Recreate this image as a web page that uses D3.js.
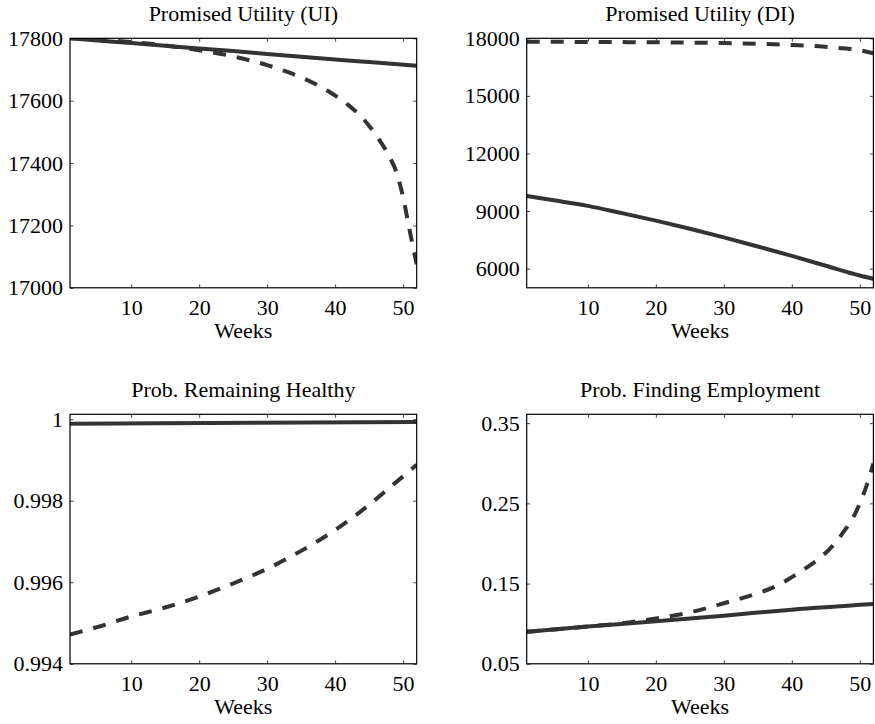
<!DOCTYPE html>
<html>
<head>
<meta charset="utf-8">
<script src="https://cdn.jsdelivr.net/npm/d3@7"></script>
<style>
  body { margin: 0; background: #fff; }
  svg text { font-family: "Liberation Serif", "Times New Roman", serif !important; fill: #000; }
</style>
</head>
<body>
<div id="chart"></div>
<script>
// weeks on the x axis
const xTicks = [10, 20, 30, 40, 50];

// Promised Utility (UI)
const uiWeeksSolid = [1, 5, 10, 15, 20, 25, 30, 35, 40, 45, 52];
const uiSolid = [17800, 17793, 17785, 17776, 17767, 17759, 17750, 17741, 17732, 17724, 17712];
const uiWeeksDashed = [1, 5, 10, 15, 20, 25, 30, 33, 36, 39, 42, 44, 46, 48, 49, 50, 51, 52];
const uiDashed = [17800, 17796, 17788, 17777, 17762, 17742, 17714, 17692, 17665, 17630, 17585, 17545, 17490, 17420, 17372, 17290, 17180, 17075];
const uiTicks = [17000, 17200, 17400, 17600, 17800];

// Promised Utility (DI)
const diWeeks = [1, 5, 10, 15, 20, 25, 30, 35, 40, 45, 50, 52];
const diSolid = [9780, 9560, 9270, 8890, 8500, 8080, 7630, 7150, 6660, 6150, 5640, 5470];
const diWeeksDashed = [1, 10, 20, 30, 35, 40, 44, 47, 50, 52];
const diDashed = [17820, 17810, 17790, 17750, 17710, 17650, 17580, 17500, 17380, 17220];
const diTicks = [6000, 9000, 12000, 15000, 18000];

// Prob. Remaining Healthy
const healthWeeksSolid = [1, 52];
const healthSolid = [0.99989, 0.99993];
const healthWeeksDashed = [1, 5, 10, 15, 20, 25, 30, 35, 40, 45, 48, 50, 52];
const healthDashed = [0.99472, 0.99490, 0.99516, 0.99538, 0.99565, 0.99597, 0.99633, 0.99677, 0.99728, 0.99790, 0.99832, 0.99860, 0.99888];
const healthTicks = [0.994, 0.996, 0.998, 1];

// Prob. Finding Employment
const empWeeksSolid = [1, 10, 20, 30, 40, 52];
const empSolid = [0.090, 0.0965, 0.1030, 0.1100, 0.1175, 0.1245];
const empWeeksDashed = [1, 5, 10, 15, 20, 25, 30, 35, 38, 40, 42, 44, 46, 48, 49, 50, 51, 52];
const empDashed = [0.090, 0.0927, 0.0965, 0.1005, 0.1065, 0.1140, 0.1255, 0.1380, 0.148, 0.1580, 0.169, 0.181, 0.197, 0.219, 0.232, 0.250, 0.272, 0.300];
const empTicks = [0.05, 0.15, 0.25, 0.35];

const W = 875, H = 724;
const FONT = '"Liberation Serif", "Times New Roman", serif';
const svg = d3.select('#chart').append('svg')
    .attr('width', W)
    .attr('height', H)
    .attr('font-family', FONT);

const panels = [
    { title: 'Promised Utility (UI)', left: 70, top: 38.3, yDomain: [17000, 17800], yTicks: uiTicks,
      solid: [uiWeeksSolid, uiSolid], dashed: [uiWeeksDashed, uiDashed] },
    { title: 'Promised Utility (DI)', left: 526.7, top: 38.3, yDomain: [5000, 18000], yTicks: diTicks,
      solid: [diWeeks, diSolid], dashed: [diWeeksDashed, diDashed] },
    { title: 'Prob. Remaining Healthy', left: 70, top: 414.3, yDomain: [0.994, 1.00012], yTicks: healthTicks,
      solid: [healthWeeksSolid, healthSolid], dashed: [healthWeeksDashed, healthDashed] },
    { title: 'Prob. Finding Employment', left: 526.7, top: 414.3, yDomain: [0.05, 0.361], yTicks: empTicks,
      solid: [empWeeksSolid, empSolid], dashed: [empWeeksDashed, empDashed] }
];

const pw = 346.7, ph = 249.5;
const fontSize = 22;

panels.forEach((p, i) => {
    const g = svg.append('g').attr('transform', `translate(${p.left},${p.top})`);

    const x = d3.scaleLinear().domain([1, 52]).range([0, pw]);
    const y = d3.scaleLinear().domain(p.yDomain).range([ph, 0]);

    g.append('clipPath').attr('id', 'clip' + i)
        .append('rect').attr('width', pw).attr('height', ph);

    // ticks point inward, mirrored on top and right like matlab
    const fmt = d3.format('~g');
    const bottom = g.append('g').attr('transform', `translate(0,${ph})`)
        .call(d3.axisBottom(x).tickValues(xTicks).tickSizeInner(-3.5).tickSizeOuter(0).tickPadding(12));
    const top = g.append('g')
        .call(d3.axisTop(x).tickValues(xTicks).tickSizeInner(-3.5).tickSizeOuter(0).tickFormat(''));
    const left = g.append('g')
        .call(d3.axisLeft(y).tickValues(p.yTicks).tickSizeInner(-3.5).tickSizeOuter(0).tickPadding(7).tickFormat(fmt));
    const right = g.append('g').attr('transform', `translate(${pw},0)`)
        .call(d3.axisRight(y).tickValues(p.yTicks).tickSizeInner(-3.5).tickSizeOuter(0).tickFormat(''));

    [bottom, top, left, right].forEach(a => {
        a.attr('font-family', FONT).attr('font-size', fontSize);
        a.select('.domain').remove();
        a.selectAll('.tick line').attr('stroke', '#444').attr('stroke-width', 1);
        a.selectAll('.tick text').attr('fill', '#000');
    });

    const line = d3.line()
        .x(d => x(d[0]))
        .y(d => y(d[1]))
        .curve(d3.curveMonotoneX);

    const solidPts = p.solid[0].map((w, k) => [w, p.solid[1][k]]);
    const dashedPts = p.dashed[0].map((w, k) => [w, p.dashed[1][k]]);

    const lines = g.append('g').attr('clip-path', `url(#clip${i})`);
    lines.append('path')
        .attr('d', line(solidPts))
        .attr('fill', 'none')
        .attr('stroke', '#333')
        .attr('stroke-width', 4);
    lines.append('path')
        .attr('d', line(dashedPts))
        .attr('fill', 'none')
        .attr('stroke', '#333')
        .attr('stroke-width', 4)
        .attr('stroke-dasharray', '13,11');

    // box
    g.append('rect')
        .attr('width', pw)
        .attr('height', ph)
        .attr('fill', 'none')
        .attr('stroke', '#000')
        .attr('stroke-width', 1.2);

    g.append('text')
        .attr('x', pw / 2)
        .attr('y', -17.6)
        .attr('text-anchor', 'middle')
        .attr('font-size', fontSize)
        .text(p.title);

    g.append('text')
        .attr('x', pw / 2)
        .attr('y', ph + 50.5)
        .attr('text-anchor', 'middle')
        .attr('font-size', fontSize)
        .text('Weeks');
});
</script>
</body>
</html>
